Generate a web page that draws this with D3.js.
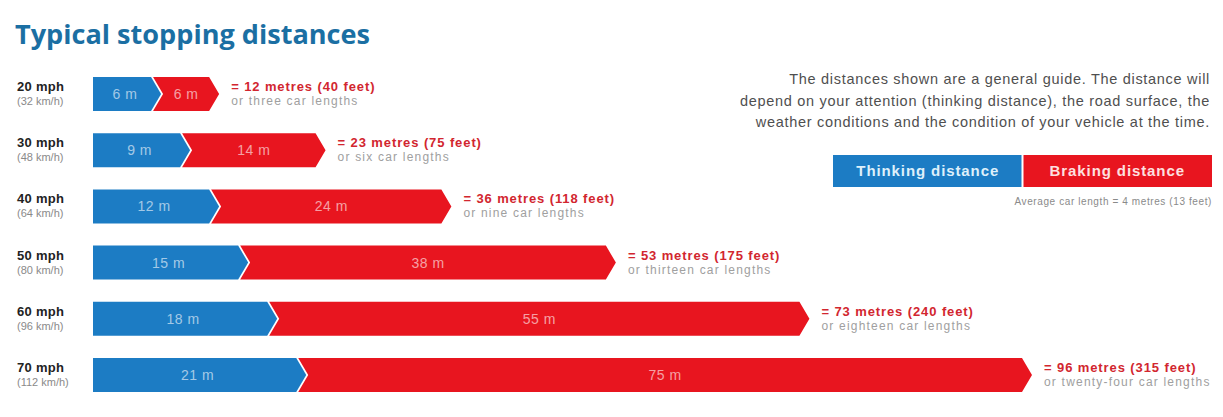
<!DOCTYPE html>
<html>
<head>
<meta charset="utf-8">
<script src="https://cdn.jsdelivr.net/npm/d3@7"></script>
<style>
  body { margin: 0; background: #fff; }
  svg { display: block; font-family: "Liberation Sans", Arial, sans-serif; }
</style>
</head>
<body>
<svg id="chart"></svg>
<script>
var speeds = ['20 mph', '30 mph', '40 mph', '50 mph', '60 mph', '70 mph'];
var speedsKmh = ['(32 km/h)', '(48 km/h)', '(64 km/h)', '(80 km/h)', '(96 km/h)', '(112 km/h)'];
var thinking = [6, 9, 12, 15, 18, 21];
var braking = [6, 14, 24, 38, 55, 75];
var totalLabels = ['= 12 metres (40 feet)', '= 23 metres (75 feet)', '= 36 metres (118 feet)',
	'= 53 metres (175 feet)', '= 73 metres (240 feet)', '= 96 metres (315 feet)'];
var carLengths = ['or three car lengths', 'or six car lengths', 'or nine car lengths',
	'or thirteen car lengths', 'or eighteen car lengths', 'or twenty-four car lengths'];
var legendLabels = ['Thinking distance', 'Braking distance'];
var noteLines = [
	'The distances shown are a general guide. The distance will',
	'depend on your attention (thinking distance), the road surface, the',
	'weather conditions and the condition of your vehicle at the time.'
];

var w = 1223,
	h = 417,
	blue = '#1c7cc4',
	red = '#e8151f',
	tip = 10,
	barH = 34,
	svg, x, y, rows, legendX;

svg = d3.select('#chart')
	.attr('width', w)
	.attr('height', h);

x = d3.scaleLinear().domain([0, 96]).range([93, 1022]);
y = d3.scalePoint().domain(speeds).range([94, 375]);

svg.append('text')
	.attr('x', 15)
	.attr('y', 44)
	.attr('textLength', 355)
	.attr('lengthAdjust', 'spacingAndGlyphs')
	.style('font-family', '"Open Sans", sans-serif')
	.style('font-weight', 700)
	.style('font-size', '27px')
	.attr('fill', '#1b6fa3')
	.text('Typical stopping distances');

// chevron shaped segment, notched on the left when it follows another one
function chevron(a, b, c, notch) {
	var t = c - barH / 2, btm = c + barH / 2;
	return 'M' + a + ',' + t + 'L' + b + ',' + t + 'L' + (b + tip) + ',' + c +
		'L' + b + ',' + btm + 'L' + a + ',' + btm +
		(notch ? 'L' + (a + tip) + ',' + c : '') + 'Z';
}

rows = svg.selectAll('g.row')
	.data(speeds)
	.enter()
	.append('g')
	.attr('class', 'row')
	.each(function (s, i) {
		var g = d3.select(this),
			c = y(s),
			x0 = x(0),
			x1 = x(thinking[i]),
			x2 = x(thinking[i] + braking[i]);

		g.append('text').attr('x', 17).attr('y', c - 3)
			.style('font-weight', 700).style('font-size', '13px')
			.style('letter-spacing', '0.3px').attr('fill', '#222')
			.text(s);
		g.append('text').attr('x', 17).attr('y', c + 11)
			.style('font-size', '11px').attr('fill', '#8a8a8a')
			.text(speedsKmh[i]);

		g.append('path').attr('d', chevron(x0, x1, c, false)).attr('fill', blue);
		g.append('path').attr('d', chevron(x1 + 2, x2, c, true)).attr('fill', red);

		g.append('text').attr('x', (x0 + x1) / 2 + 3).attr('y', c + 5)
			.attr('text-anchor', 'middle').style('font-size', '14px')
			.style('letter-spacing', '0.5px')
			.attr('fill', '#fff').attr('fill-opacity', 0.6)
			.text(thinking[i] + ' m');
		g.append('text').attr('x', (x1 + x2) / 2 + tip / 2 + 1).attr('y', c + 5)
			.attr('text-anchor', 'middle').style('font-size', '14px')
			.style('letter-spacing', '0.5px')
			.attr('fill', '#fff').attr('fill-opacity', 0.6)
			.text(braking[i] + ' m');

		g.append('text').attr('x', x2 + tip + 12).attr('y', c - 3)
			.style('font-weight', 700).style('font-size', '13px')
			.style('letter-spacing', '0.9px').attr('fill', '#d2262f')
			.text(totalLabels[i]);
		g.append('text').attr('x', x2 + tip + 12).attr('y', c + 11)
			.style('font-size', '12px').style('letter-spacing', '1.2px')
			.attr('fill', '#a0a0a0')
			.text(carLengths[i]);
	});

svg.selectAll('text.note')
	.data(noteLines)
	.enter()
	.append('text')
	.attr('class', 'note')
	.attr('x', 1210)
	.attr('y', function (d, i) { return 84 + i * 21.5; })
	.attr('text-anchor', 'end')
	.style('font-size', '14.5px')
	.style('letter-spacing', '0.7px')
	.attr('fill', '#4f4f4f')
	.text(function (d) { return d; });

legendX = d3.scaleBand().domain(legendLabels).range([833, 1212]);

svg.selectAll('g.legend')
	.data(legendLabels)
	.enter()
	.append('g')
	.attr('class', 'legend')
	.each(function (d, i) {
		var g = d3.select(this);
		g.append('rect')
			.attr('x', legendX(d) + (i ? 1 : 0))
			.attr('y', 155)
			.attr('width', legendX.bandwidth() - 1)
			.attr('height', 32)
			.attr('fill', i ? red : blue);
		g.append('text')
			.attr('x', legendX(d) + legendX.bandwidth() / 2)
			.attr('y', 176)
			.attr('text-anchor', 'middle')
			.style('font-weight', 700)
			.style('font-size', '15px')
			.style('letter-spacing', '0.9px')
			.attr('fill', i ? '#fde0e0' : '#def0fb')
			.text(d);
	});

svg.append('text')
	.attr('x', 1212)
	.attr('y', 205)
	.attr('text-anchor', 'end')
	.style('font-size', '10px')
	.style('letter-spacing', '0.6px')
	.attr('fill', '#8a8a8a')
	.text('Average car length = 4 metres (13 feet)');
</script>
</body>
</html>
